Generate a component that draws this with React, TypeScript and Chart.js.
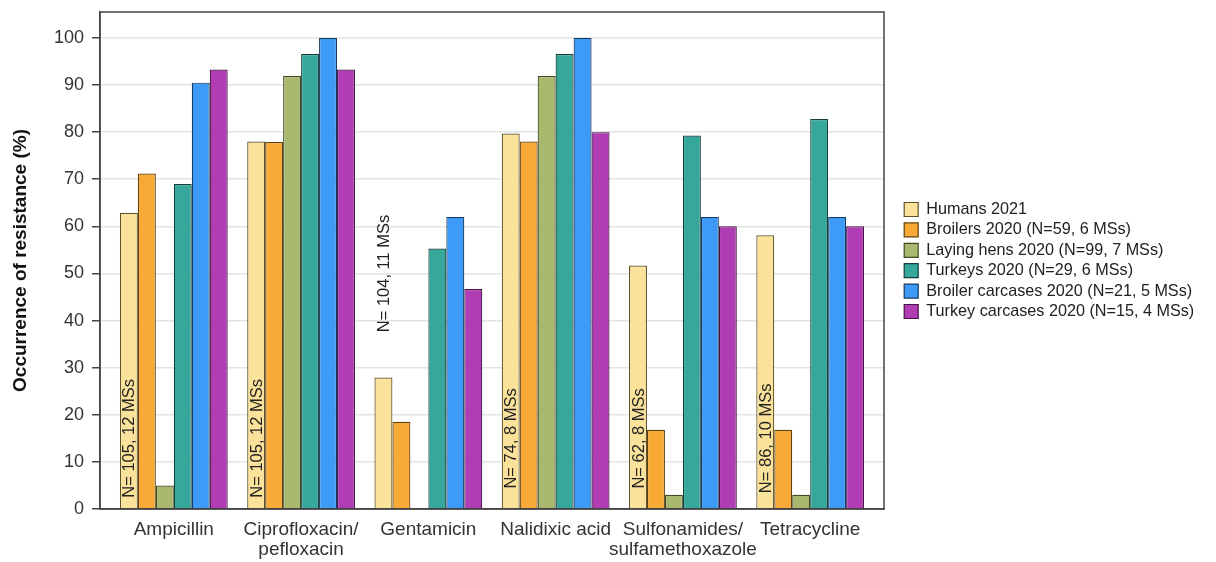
import React, { useEffect, useRef } from "react";
import { Chart, registerables } from "chart.js";

Chart.register(...registerables);

const FONT = 'Arial, "Liberation Sans", Helvetica, sans-serif';

const categories: string[][] = [
  ["Ampicillin"],
  ["Ciprofloxacin/", "pefloxacin"],
  ["Gentamicin"],
  ["Nalidixic acid"],
  ["Sulfonamides/", "sulfamethoxazole"],
  ["Tetracycline"],
];

const seriesNames = [
  "Humans 2021",
  "Broilers 2020 (N=59, 6 MSs)",
  "Laying hens 2020 (N=99, 7 MSs)",
  "Turkeys 2020 (N=29, 6 MSs)",
  "Broiler carcases 2020 (N=21, 5 MSs)",
  "Turkey carcases 2020 (N=15, 4 MSs)",
];

const humans = [62.9, 78.0, 27.9, 79.7, 51.7, 58.1];
const broilers = [71.2, 77.9, 18.5, 78.0, 16.8, 16.8];
const layingHens: (number | null)[] = [5.0, 91.9, null, 91.9, 3.0, 3.0];
const turkeys = [69.0, 96.6, 55.3, 96.6, 79.3, 82.8];
const broilerCarcases = [90.5, 100, 62.0, 100, 62.0, 62.0];
const turkeyCarcases = [93.3, 93.3, 46.7, 80.0, 60.0, 60.0];

const humanNLabels = [
  "N= 105, 12 MSs",
  "N= 105, 12 MSs",
  "N= 104, 11 MSs",
  "N= 74, 8 MSs",
  "N= 62, 8 MSs",
  "N= 86, 10 MSs",
];
const humanNLabelCenters = [15, 15, 50, 15, 15, 15];

const yMin = 0;
const yMax = 105.5;
const yStep = 10;

const fills = ["#FBE29B", "#F8AA37", "#A8B86E", "#36A79B", "#3D9BF7", "#B13DB4"];
const borders = ["#5e5328", "#5e400f", "#414a22", "#143f3a", "#16395f", "#441545"];

const seriesValues = [humans, broilers, layingHens, turkeys, broilerCarcases, turkeyCarcases];

const framePlugin = {
  id: "frame",
  afterDatasetsDraw(chart: any) {
    const { ctx, chartArea } = chart;
    ctx.save();
    ctx.strokeStyle = "#444";
    ctx.lineWidth = 1.5;
    ctx.strokeRect(chartArea.left, chartArea.top, chartArea.right - chartArea.left, chartArea.bottom - chartArea.top);
    ctx.restore();
  },
};

const nLabelPlugin = {
  id: "nLabels",
  afterDatasetsDraw(chart: any) {
    const meta = chart.getDatasetMeta(0);
    const yScale = chart.scales.y;
    const ctx = chart.ctx;
    ctx.save();
    ctx.font = `16.5px ${FONT}`;
    ctx.fillStyle = "#222";
    ctx.textAlign = "center";
    ctx.textBaseline = "middle";
    humanNLabels.forEach((t, i) => {
      const el = meta.data[i];
      if (!el) return;
      const x = el.x;
      const y = yScale.getPixelForValue(humanNLabelCenters[i]);
      ctx.save();
      ctx.translate(x, y);
      ctx.rotate(-Math.PI / 2);
      ctx.fillText(t, 0, 1);
      ctx.restore();
    });
    ctx.restore();
  },
};

export default function App() {
  const canvasRef = useRef<HTMLCanvasElement | null>(null);

  useEffect(() => {
    if (!canvasRef.current) return;
    Chart.defaults.font.family = FONT;
    const chart = new Chart(canvasRef.current, {
      type: "bar",
      data: {
        datasets: seriesNames.map((name, s) => ({
          label: name,
          data: seriesValues[s].map((v, i) => ({ x: i, y: v })),
          backgroundColor: fills[s],
          borderColor: borders[s],
          borderWidth: 1.2,
          categoryPercentage: 0.847,
          barPercentage: 1,
        })),
      },
      options: {
        responsive: false,
        animation: false,
        layout: { padding: { top: 12, right: 16, left: 0, bottom: 0 } },
        plugins: {
          tooltip: { enabled: false },
          legend: {
            position: "right",
            align: "center",
            fullSize: false,
            labels: {
              boxWidth: 14,
              boxHeight: 14,
              padding: 4.2,
              color: "#222",
              font: { size: 16.2, family: FONT },
            },
          },
        },
        scales: {
          x: {
            type: "linear",
            min: -0.58,
            max: 5.58,
            offset: false,
            grid: { display: false, drawTicks: false },
            border: { display: true, color: "#444", width: 1.5 },
            ticks: {
              stepSize: 1,
              includeBounds: false,
              autoSkip: false,
              maxRotation: 0,
              padding: 11,
              color: "#333",
              font: { size: 19, family: FONT, lineHeight: 1.05 },
              callback: (v: any) => categories[v] ?? "",
            },
            afterBuildTicks: (s: any) => {
              s.ticks = s.ticks.filter(
                (t: any) => Number.isInteger(t.value) && t.value >= 0 && t.value < categories.length
              );
            },
            afterFit: (s: any) => {
              s.height = 53;
            },
          },
          y: {
            type: "linear",
            min: yMin,
            max: yMax,
            grid: { color: "#e4e4e4", lineWidth: 1.5, tickLength: 8, tickColor: "#444", drawTicks: true },
            border: { display: true, color: "#444", width: 1.5 },
            ticks: {
              stepSize: yStep,
              includeBounds: false,
              color: "#333",
              padding: 8,
              font: { size: 18, family: FONT, lineHeight: 0.3 },
            },
            title: {
              display: true,
              text: "Occurrence of resistance (%)",
              color: "#111",
              font: { size: 19, weight: "bold", family: FONT },
              padding: { top: 9, bottom: 0 },
            },
            afterFit: (s: any) => {
              s.width = 100;
            },
          },
          y2: {
            type: "linear",
            position: "right",
            display: false,
            afterFit: (s: any) => {
              s.width = 16;
            },
          },
        },
      } as any,
      plugins: [framePlugin, nLabelPlugin],
    });
    return () => chart.destroy();
  }, []);

  return (
    <div style={{ position: "fixed", left: 0, top: 0, width: 1216, height: 562, background: "#fff" }}>
      <canvas ref={canvasRef} width={1216} height={562} />
    </div>
  );
}
